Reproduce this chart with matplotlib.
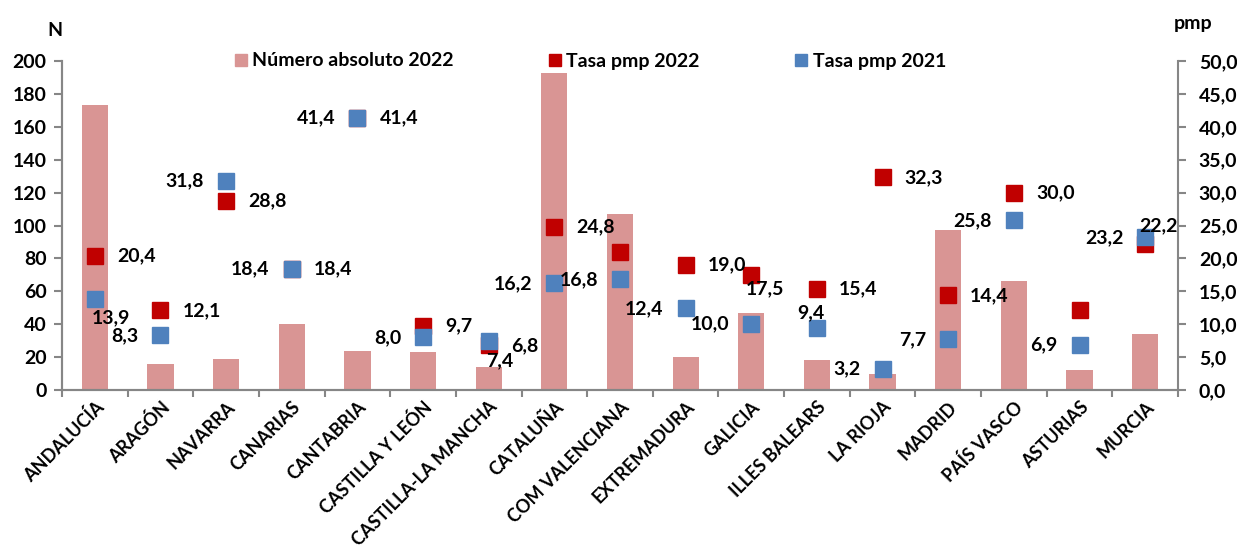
import matplotlib
matplotlib.use("Agg")
import matplotlib.pyplot as plt
import numpy as np
from matplotlib.lines import Line2D

plt.rcParams['font.family'] = ['Lato', 'DejaVu Sans']
plt.rcParams['font.weight'] = 'bold'

# data
regions = ['ANDALUCÍA', 'ARAGÓN', 'NAVARRA', 'CANARIAS', 'CANTABRIA', 'CASTILLA Y LEÓN',
           'CASTILLA-LA MANCHA', 'CATALUÑA', 'COM VALENCIANA', 'EXTREMADURA', 'GALICIA',
           'ILLES BALEARS', 'LA RIOJA', 'MADRID', 'PAÍS VASCO', 'ASTURIAS', 'MURCIA']
n_2022 = [173, 16, 19, 40, 24, 23, 14, 193, 107, 20, 47, 18, 10, 97, 66, 12, 34]
tasa_2022 = [20.4, 12.1, 28.8, 18.4, 41.4, 9.7, 6.8, 24.8, 21.0, 19.0, 17.5, 15.4, 32.3, 14.4, 30.0, 12.2, 22.2]
tasa_2021 = [13.9, 8.3, 31.8, 18.4, 41.4, 8.0, 7.4, 16.2, 16.8, 12.4, 10.0, 9.4, 3.2, 7.7, 25.8, 6.9, 23.2]

# where each value label sits next to its marker (None = no label)
pos_2022 = ['r', 'r', 'r', 'r', 'r', 'r', 'r', 'r', None, 'r', 'bl', 'r', 'r', 'r', 'r', None, 'ar']
pos_2021 = ['br', 'l', 'l', 'l', 'l', 'l', 'br', 'l', 'l', 'l', 'l', 'al', 'l', 'l', 'l', 'l', 'l']

bar_col = '#D99594'
red = '#C00000'
blue = '#4F81BD'
grey = '#868686'
fs = 14

offsets = {'r': ((22, 0), 'left', 'center'),
           'l': ((-22, 0), 'right', 'center'),
           'br': ((-3, -19), 'left', 'center'),
           'bl': ((-6, -14), 'left', 'center'),
           'al': ((8, 15), 'right', 'center'),
           'ar': ((-6, 18), 'left', 'center')}

fig = plt.figure(figsize=(12.37, 5.55), dpi=100)
ax = fig.add_axes([0.0501, 0.2973, 0.9022, 0.5927])
ax2 = ax.twinx()

x = np.arange(len(regions))
ax.bar(x, n_2022, width=0.4, color=bar_col, zorder=1)
ax.set_ylim(0, 200)
ax.set_yticks(np.arange(0, 201, 20))
ax.set_xlim(-0.5, len(regions) - 0.5)
ax.set_xticks(x)
ax.set_xticklabels(regions, rotation=45, ha='right', rotation_mode='anchor', fontsize=13)
ax.set_xticks(np.arange(-0.5, len(regions)), minor=True)
ax.tick_params(axis='x', which='major', length=0, pad=6)
ax.tick_params(axis='x', which='minor', length=5, color=grey, width=1.5)
ax.tick_params(axis='y', length=6, color=grey, width=1.5, labelsize=fs, pad=5)

ax2.plot(x, tasa_2022, 's', ms=11.5, color=red, zorder=3)
ax2.plot(x, tasa_2021, 's', ms=11.5, color=blue, zorder=4)
ax2.set_ylim(0, 50)
ax2.set_yticks(np.arange(0, 51, 5))
ax2.set_yticklabels([f'{v:.1f}'.replace('.', ',') for v in np.arange(0, 51, 5)])
ax2.tick_params(axis='y', length=6, color=grey, width=1.5, labelsize=fs, pad=9)

for a in (ax, ax2):
    a.spines['top'].set_visible(False)
    for s in ('left', 'right', 'bottom'):
        a.spines[s].set_color(grey)
        a.spines[s].set_linewidth(1.5)
ax.spines['right'].set_visible(False)

for vals, poss in ((tasa_2022, pos_2022), (tasa_2021, pos_2021)):
    for i, (v, p) in enumerate(zip(vals, poss)):
        if p is None:
            continue
        off, ha, va = offsets[p]
        ax2.annotate(f'{v:.1f}'.replace('.', ','), (i, v), xytext=off,
                     textcoords='offset pixels', ha=ha, va=va,
                     fontsize=fs, fontweight='bold', zorder=5)

fig.text(55 / 1237, 1 - 31 / 555, 'N', ha='center', va='center', fontsize=fs, fontweight='bold')
fig.text(1193 / 1237, 1 - 24 / 555, 'pmp', ha='center', va='center', fontsize=fs, fontweight='bold')

handles = [Line2D([], [], ls='', marker='s', ms=8, color=bar_col),
           Line2D([], [], ls='', marker='s', ms=8, color=red),
           Line2D([], [], ls='', marker='s', ms=8, color=blue)]
fig.legend(handles, ['Número absoluto 2022', 'Tasa pmp 2022', 'Tasa pmp 2021'],
           loc='center left', bbox_to_anchor=(225 / 1237, 1 - 61 / 555), ncol=3,
           frameon=False, handlelength=0.6, handletextpad=0.3, columnspacing=4.9,
           borderpad=0, prop={'size': fs, 'weight': 'bold'})

fig.savefig('out.png', dpi=100)
